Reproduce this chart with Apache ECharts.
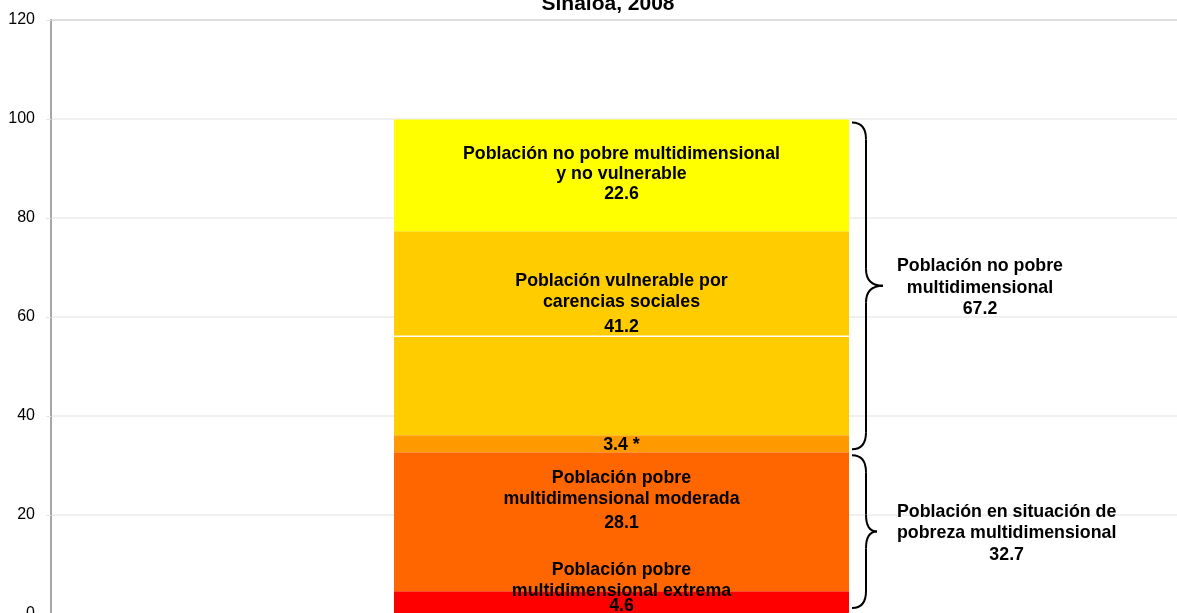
<!DOCTYPE html>
<html>
<head>
<meta charset="utf-8">
<script src="https://cdn.jsdelivr.net/npm/echarts@6/dist/echarts.min.js"></script>
<style>
  html, body { margin: 0; padding: 0; background: #fff; }
  #chart { width: 1177px; height: 613px; }
</style>
</head>
<body>
<div id="chart"></div>
<script>
// 数据
const titleText = 'Sinaloa, 2008'
const categories = ['Sinaloa']
const extremaValues = [4.6]
const moderadaValues = [28.1]
const vulnerableIngresoValues = [3.4]
const carenciasValues = [41.2]
const carenciasCorte = [20.0]   // la línea blanca dentro del bloque de 41.2
const noPobreValues = [22.6]
const noPobreTotal = [67.2]
const pobrezaTotal = [32.7]

const font = "'Liberation Sans', Arial, sans-serif"
const barWidth = 455
const fs = 17.8

const chart = echarts.init(document.getElementById('chart'))

const txt = (lh) => ({ fontSize: fs, fontWeight: 'bold', fontFamily: font, color: '#000', lineHeight: lh })

const makeSeries = (name, data, color, label) => ({
  name,
  type: 'bar',
  stack: 'total',
  barWidth,
  data,
  itemStyle: { color },
  label: label || { show: false },
  emphasis: { disabled: true }
})

const option = {
  animation: false,
  grid: {
    left: 51,
    right: -15,
    top: 20,
    bottom: -1,
    outerBoundsMode: 'none',
    containLabel: false,
    show: true,
    borderColor: '#a0a0a0',
    borderWidth: 1.5
  },
  xAxis: {
    type: 'category',
    data: categories,
    show: false
  },
  yAxis: {
    type: 'value',
    min: 0,
    max: 120,
    interval: 20,
    axisLine: { show: true, lineStyle: { color: '#a0a0a0', width: 1.5 } },
    axisTick: { show: true, length: 5, lineStyle: { color: '#e4e4e4' } },
    axisLabel: { color: '#000', fontSize: 16, fontFamily: font, margin: 16 },
    splitLine: { lineStyle: { color: '#ebebeb', width: 1.5 } }
  },
  series: [
    makeSeries('extrema', extremaValues, '#ff0000', {
      show: true, position: 'inside', offset: [0, -18],
      formatter: '{t|Población pobre}\n{t|multidimensional extrema}\n{v|{c}}',
      rich: { t: txt(21), v: txt(9) }
    }),
    makeSeries('moderada', moderadaValues, '#ff6600', {
      show: true, position: 'inside', offset: [0, -20],
      formatter: '{t|Población pobre}\n{t|multidimensional moderada}\n{v|{c}}',
      rich: { t: txt(21), v: txt(27) }
    }),
    makeSeries('ingreso', vulnerableIngresoValues, '#ff9900', {
      show: true, position: 'inside', offset: [0, 1.5],
      formatter: '{v|{c} *}',
      rich: { v: txt(16) }
    }),
    makeSeries('carencias1', carenciasCorte, '#ffcc00'),
    makeSeries('carencias2', carenciasValues.map((v, i) => +(v - carenciasCorte[i]).toFixed(1)), '#ffcc00', {
      show: true, position: 'inside', offset: [0, 22],
      formatter: '{t|Población vulnerable por}\n{t|carencias sociales}\n{v|' + carenciasValues[0] + '}',
      rich: { t: txt(21), v: txt(29) }
    }),
    makeSeries('noPobre', noPobreValues, '#ffff00', {
      show: true, position: 'inside', offset: [0, -1],
      formatter: '{t|Población no pobre multidimensional}\n{t|y no vulnerable}\n{v|{c}}',
      rich: { t: txt(20), v: txt(20) }
    })
  ]
}

chart.setOption(option)

// 括号、白线、标题
const measure = (lines) => {
  const ctx = document.createElement('canvas').getContext('2d')
  ctx.font = 'bold ' + fs + 'px ' + font
  return Math.max(...lines.map(l => ctx.measureText(l).width))
}

const toPx = (v) => chart.convertToPixel({ gridIndex: 0 }, [0, v])
const centerX = toPx(0)[0]
const barLeft = centerX - barWidth / 2
const barRight = centerX + barWidth / 2

const braceStyle = { fill: null, stroke: '#000', lineWidth: 2 }

const brace = (yTop, yBot, depth) => {
  const x0 = barRight + 3
  const xm = x0 + 14
  const xt = x0 + depth
  const ym = (yTop + yBot) / 2
  const r = 17
  const curve = (x1, y1, cx, cy, x2, y2) => ({
    type: 'bezierCurve', shape: { x1, y1, cpx1: cx, cpy1: cy, x2, y2 }, style: braceStyle
  })
  const line = (y1, y2) => ({
    type: 'line', shape: { x1: xm, y1, x2: xm, y2 }, style: braceStyle
  })
  return {
    type: 'group',
    silent: true,
    children: [
      curve(x0, yTop, xm, yTop, xm, yTop + r),
      line(yTop + r, ym - r),
      curve(xm, ym - r, xm, ym, xt, ym),
      curve(xt, ym, xm, ym, xm, ym + r),
      line(ym + r, yBot - r),
      curve(xm, yBot - r, xm, yBot, x0, yBot)
    ]
  }
}

const braceText = (lines, ym) => {
  const w = measure(lines)
  return {
    type: 'text',
    x: barRight + 48 + w / 2,
    y: ym + 2,
    style: {
      text: lines.join('\n'),
      align: 'center',
      verticalAlign: 'middle',
      font: 'bold ' + fs + 'px ' + font,
      lineHeight: 21.5,
      fill: '#000'
    },
    silent: true
  }
}

const pobrezaTop = extremaValues[0] + moderadaValues[0]
const corteY = toPx(pobrezaTop + vulnerableIngresoValues[0] + carenciasCorte[0])[1]
const y0 = toPx(0)[1]
const yP = toPx(pobrezaTop)[1]
const y100 = toPx(pobrezaTop + noPobreTotal[0])[1]

const upTop = y100 + 3, upBot = yP - 3
const loTop = yP + 3, loBot = y0 - 6

chart.setOption({
  graphic: [
    {
      type: 'line',
      shape: { x1: barLeft, y1: corteY, x2: barRight, y2: corteY },
      style: { stroke: '#fff', lineWidth: 1.5 },
      z: 100,
      silent: true
    },
    brace(upTop, upBot, 31),
    brace(loTop, loBot, 25),
    braceText(['Población no pobre', 'multidimensional', String(noPobreTotal[0])], (upTop + upBot) / 2),
    braceText(['Población en situación de', 'pobreza multidimensional', String(pobrezaTotal[0])], (loTop + loBot) / 2),
    {
      type: 'text',
      x: 608,
      y: 14.5,
      style: {
        text: titleText,
        align: 'center',
        verticalAlign: 'bottom',
        font: 'bold 21px ' + font,
        fill: '#000'
      },
      silent: true
    }
  ]
})
</script>
</body>
</html>
